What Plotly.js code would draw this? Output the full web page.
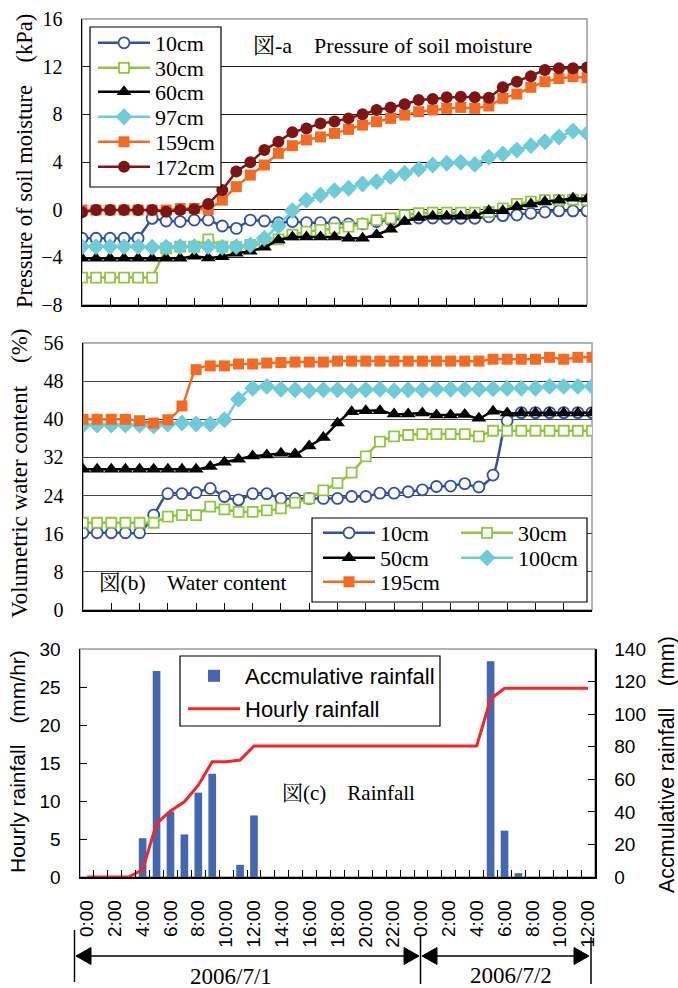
<!DOCTYPE html>
<html><head><meta charset="utf-8">
<script src="https://cdn.plot.ly/plotly-3.0.1.min.js"></script>
<style>html,body{margin:0;padding:0;background:#fff;} #chart{width:678px;height:988px;}</style>
</head><body><div id="chart"></div>
<script>
// ---------- data ----------
const hours = [0,1,2,3,4,5,6,7,8,9,10,11,12,13,14,15,16,17,18,19,20,21,22,23,24,25,26,27,28,29,30,31,32,33,34,35,36];
const hourTickLabels = ['0:00','2:00','4:00','6:00','8:00','10:00','12:00','14:00','16:00','18:00','20:00','22:00','0:00','2:00','4:00','6:00','8:00','10:00','12:00'];

// panel a : pressure of soil moisture (kPa)
const a10  = [-2.4,-2.4,-2.4,-2.4,-2.4,-0.73,-0.95,-1.0,-0.87,-0.87,-1.37,-1.57,-0.87,-0.95,-1.09,-1.0,-1.09,-1.09,-1.1,-1.2,-1.2,-1.0,-0.87,-0.75,-0.7,-0.7,-0.72,-0.72,-0.72,-0.6,-0.5,-0.45,-0.3,-0.2,-0.1,-0.1,-0.1];
const a30  = [-5.7,-5.7,-5.7,-5.7,-5.7,-5.7,-3.25,-3.1,-3.1,-2.5,-3.1,-3.15,-2.96,-2.9,-2.5,-2.1,-1.85,-1.7,-1.57,-1.43,-1.2,-0.87,-0.73,-0.45,-0.3,-0.25,-0.25,-0.25,-0.25,-0.2,0.1,0.48,0.67,0.8,0.8,0.85,0.8];
const a60  = [-4.08,-4.08,-4.08,-4.08,-4.08,-4.08,-4.08,-4.08,-3.9,-4.05,-3.95,-3.66,-3.5,-3.16,-2.55,-2.3,-2.3,-2.3,-2.3,-2.4,-2.4,-2.1,-1.65,-1.0,-0.65,-0.55,-0.55,-0.55,-0.5,-0.1,-0.1,0.25,0.48,0.67,0.8,0.95,0.9];
const a97  = [-3.1,-3.1,-3.1,-3.1,-3.1,-3.15,-3.15,-3.1,-3.1,-3.1,-3.15,-3.1,-2.96,-2.4,-1.37,-0.08,0.8,1.23,1.6,1.8,2.15,2.35,2.77,3.05,3.4,3.75,3.9,3.97,3.8,4.4,4.67,5.0,5.37,5.7,6.1,6.6,6.4];
const a159 = [-0.03,-0.03,-0.03,-0.03,-0.03,-0.03,-0.03,0.1,0.1,0.0,0.8,1.93,2.9,3.75,4.73,5.37,5.85,6.1,6.4,6.74,7.1,7.38,7.66,7.94,8.22,8.36,8.5,8.58,8.5,8.7,9.34,9.7,10.27,10.74,11.0,11.16,11.08];
const a172 = [-0.22,-0.03,-0.03,-0.03,-0.03,-0.03,-0.17,-0.03,0.03,0.48,1.65,3.2,3.97,5.0,5.7,6.5,6.82,7.24,7.4,7.66,8.0,8.36,8.58,8.84,9.2,9.29,9.43,9.48,9.43,9.4,10.27,10.74,11.2,11.72,11.86,11.86,11.94];

// panel b : volumetric water content (%)
const b10  = [16.2,16.2,16.2,16.2,16.2,19.9,24.4,24.4,24.6,25.5,23.8,23.1,24.4,24.4,23.4,23.4,23.4,23.4,23.4,23.8,23.8,24.5,24.5,24.8,25.2,25.9,26.0,26.5,25.8,28.3,39.7,41.4,41.4,41.4,41.4,41.4,41.4];
const b30  = [18.3,18.3,18.3,18.3,18.3,18.3,19.6,19.9,19.9,21.7,21.1,20.6,20.6,20.9,21.3,22.5,23.4,25.1,26.6,28.8,32.2,35.3,36.4,36.7,36.9,36.9,36.9,36.9,36.4,37.6,37.6,37.6,37.6,37.6,37.6,37.6,37.6];
const b50  = [29.5,29.5,29.5,29.5,29.5,29.5,29.5,29.5,29.5,30.1,31.0,31.6,32.3,32.5,32.9,32.7,34.4,36.2,39.2,41.6,41.8,41.8,41.1,41.1,41.3,40.9,40.9,41.0,40.2,41.7,41.3,41.3,41.3,41.3,41.3,41.3,41.3];
const b100 = [38.8,38.8,38.8,38.8,38.8,38.6,39.0,39.2,39.0,39.0,39.9,44.2,46.5,46.9,46.3,46.2,46.0,46.2,46.2,46.0,46.2,46.3,46.0,46.2,46.2,46.3,46.3,46.3,46.3,46.4,46.5,46.5,46.5,46.9,46.9,46.9,46.9];
const b195 = [40.0,40.0,40.0,40.0,39.7,39.2,39.9,42.8,50.4,51.2,51.2,51.6,51.6,51.8,51.9,52.0,52.0,52.0,52.2,52.2,52.2,52.2,52.2,52.2,52.2,52.2,52.2,52.2,52.2,52.6,52.6,52.6,52.6,53.0,52.6,53.0,53.0];

// panel c : rainfall
const rainBars = [0,0,0,0,5.1,27.1,8.6,5.6,11.1,13.6,0,1.6,8.1,0,0,0,0,0,0,0,0,0,0,0,0,0,0,0,0,28.4,6.1,0.5,0,0,0,0,0];
const rainLine = [0,0,0,0,4.5,32.8,40.6,46.2,56.4,70.8,70.8,71.8,80.5,80.5,80.5,80.5,80.5,80.5,80.5,80.5,80.5,80.5,80.5,80.5,80.5,80.5,80.5,80.5,80.5,109.3,115.9,115.9,115.9,115.9,115.9,115.9,115.9];

// ---------- layout helpers ----------
const W = 678, H = 988;
const X = p => p / W;
const Y = p => 1 - p / H;
const SERIF = '"Liberation Serif", "Times New Roman", "Noto Serif CJK JP", "Noto Sans CJK JP", serif';
const SANS = '"Liberation Sans", Arial, "Noto Sans CJK JP", sans-serif';

const C = {blue:'#3151A6', green:'#8FC73F', black:'#000000', cyan:'#6FCBD8', orange:'#F36A24', dred:'#7D1517', bar:'#4566B0', red:'#F32626'};

function ser(x, y, name, color, sym, size, open, xa, ya, leg, shape) {
  return {
    x: x, y: y, name: name, type: 'scatter', mode: 'lines+markers',
    xaxis: xa, yaxis: ya, legend: leg,
    line: {color: color, width: 2.5, shape: shape || 'linear', smoothing: 0.8},
    marker: {symbol: sym, size: size, color: open ? '#ffffff' : color,
             line: {color: color, width: open ? 1.8 : 0}}
  };
}

const traces = [
  ser(hours, a10,  '10cm',  C.blue,   'circle',      11, true,  'x', 'y', 'legend'),
  ser(hours, a30,  '30cm',  C.green,  'square',      10, true,  'x', 'y', 'legend2'),
  ser(hours, a60,  '60cm',  C.black,  'triangle-up', 13, false, 'x', 'y', 'legend3'),
  ser(hours, a97,  '97cm',  C.cyan,   'diamond',     13, false, 'x', 'y', 'legend4'),
  ser(hours, a159, '159cm', C.orange, 'square',      11, false, 'x', 'y', 'legend5'),
  ser(hours, a172, '172cm', C.dred,   'circle',      12, false, 'x', 'y', 'legend6'),

  ser(hours, b10,  '10cm',  C.blue,   'circle',      11, true,  'x2', 'y2', 'legend7', 'spline'),
  ser(hours, b30,  '30cm',  C.green,  'square',      10, true,  'x2', 'y2', 'legend8', 'spline'),
  ser(hours, b50,  '50cm',  C.black,  'triangle-up', 13, false, 'x2', 'y2', 'legend9', 'spline'),
  ser(hours, b100, '100cm', C.cyan,   'diamond',     13, false, 'x2', 'y2', 'legend10', 'spline'),
  ser(hours, b195, '195cm', C.orange, 'square',      11, false, 'x2', 'y2', 'legend11', 'spline'),

  {x: hours, y: rainBars, name: 'Accmulative rainfall', type: 'bar', xaxis: 'x3', yaxis: 'y3',
   legend: 'legend12', marker: {color: C.bar}, width: 0.55},
  {x: hours, y: rainLine, name: 'Hourly rainfall', type: 'scatter', mode: 'lines', xaxis: 'x3', yaxis: 'y4',
   legend: 'legend13', line: {color: C.red, width: 3}}
];

const tickFontSerif = {family: SERIF, size: 20, color: '#000'};
const tickFontSans = {family: SANS, size: 19, color: '#000'};

const boundaryTicks = [];
for (let i = 0; i < 36; i++) boundaryTicks.push(i + 0.5);
const labelPos = hourTickLabels.map((_, i) => i * 2);

function frame(x0, y0, x1, y1) {
  return {type: 'rect', xref: 'paper', yref: 'paper', x0: X(x0), x1: X(x1), y0: Y(y1), y1: Y(y0),
          line: {color: '#9a9a9a', width: 1.5}, layer: 'below'};
}
function box(x0, y0, x1, y1) {
  return {type: 'rect', xref: 'paper', yref: 'paper', x0: X(x0), x1: X(x1), y0: Y(y1), y1: Y(y0),
          fillcolor: '#fff', line: {color: '#000', width: 1.2}, layer: 'above'};
}
function seg(x0, y0, x1, y1) {
  return {type: 'line', xref: 'paper', yref: 'paper', x0: X(x0), x1: X(x1), y0: Y(y0), y1: Y(y1),
          line: {color: '#000', width: 1.5}};
}
function tri(tipX, tipY, dir) {
  const bx = tipX + dir * 15;
  const p = 'M' + X(tipX) + ',' + Y(tipY) + ' L' + X(bx) + ',' + Y(tipY - 8.5) + ' L' + X(bx) + ',' + Y(tipY + 8.5) + ' Z';
  return {type: 'path', xref: 'paper', yref: 'paper', path: p, fillcolor: '#000', line: {color: '#000', width: 1}};
}
function ann(text, x, y, font, opts) {
  return Object.assign({text: text, x: X(x), y: Y(y), xref: 'paper', yref: 'paper', showarrow: false,
                        font: font, xanchor: 'center', yanchor: 'middle'}, opts || {});
}
function leg(x, y, font) {
  return {x: X(x), y: Y(y), xanchor: 'left', yanchor: 'middle', bgcolor: 'rgba(0,0,0,0)', borderwidth: 0,
          font: font, itemwidth: 52, traceorder: 'normal'};
}
const legSerif = {family: SERIF, size: 22, color: '#000'};
const legSans = {family: SANS, size: 22, color: '#000'};

const layout = {
  width: W, height: H,
  margin: {l: 0, r: 0, t: 0, b: 0},
  paper_bgcolor: '#fff', plot_bgcolor: 'rgba(0,0,0,0)',
  showlegend: true,
  bargap: 0.47,
  xaxis: {domain: [X(82), X(587)], anchor: 'y', range: [0, 36], tick0: 0, dtick: 2,
          ticks: 'inside', ticklen: 7, tickcolor: '#000', showticklabels: false,
          showline: true, linecolor: '#000', linewidth: 1.5, showgrid: false, zeroline: false},
  yaxis: {domain: [Y(305), Y(19)], anchor: 'x', range: [-8, 16], tick0: -8, dtick: 4,
          ticks: '', showline: true, linecolor: '#000', linewidth: 1.5, showgrid: true, gridcolor: '#1a1a1a', gridwidth: 1,
          zeroline: false, tickfont: tickFontSerif, ticklabelstandoff: 14},
  xaxis2: {domain: [X(83), X(592)], anchor: 'y2', range: [0, 36], tick0: 0, dtick: 2,
           ticks: 'inside', ticklen: 7, tickcolor: '#000', showticklabels: false,
           showline: true, linecolor: '#000', linewidth: 1.5, showgrid: false, zeroline: false},
  yaxis2: {domain: [Y(610), Y(343)], anchor: 'x2', range: [0, 56], tick0: 0, dtick: 8,
           ticks: '', showline: true, linecolor: '#000', linewidth: 1.5, showgrid: true, gridcolor: '#444', gridwidth: 1,
           zeroline: false, tickfont: tickFontSerif, ticklabelstandoff: 14},
  xaxis3: {domain: [X(80), X(595)], anchor: 'y3', range: [-0.5, 36.5],
           tickmode: 'array', tickvals: labelPos, ticktext: hourTickLabels, ticks: '', tickangle: -90,
           tickfont: tickFontSans, ticklabelstandoff: 14,
           minor: {tickmode: 'array', tickvals: boundaryTicks, ticks: 'inside', ticklen: 7, tickcolor: '#000', showgrid: false},
           showline: true, linecolor: '#000', linewidth: 1.5, showgrid: false, zeroline: false},
  yaxis3: {domain: [Y(877), Y(649)], anchor: 'x3', range: [0, 30], dtick: 5,
           ticks: 'inside', ticklen: 7, tickcolor: '#000', showline: true, linecolor: '#000', linewidth: 1.5, showgrid: false, zeroline: false,
           tickfont: tickFontSans, ticklabelstandoff: 14},
  yaxis4: {overlaying: 'y3', side: 'right', anchor: 'x3', range: [0, 140], dtick: 20,
           ticks: 'inside', ticklen: 7, tickcolor: '#000', showline: true, linecolor: '#000', linewidth: 1.5, showgrid: false, zeroline: false,
           tickfont: tickFontSans, ticklabelstandoff: 14},

  legend:  leg(93, 43, legSerif),
  legend2: leg(93, 68, legSerif),
  legend3: leg(93, 92, legSerif),
  legend4: leg(93, 117, legSerif),
  legend5: leg(93, 142, legSerif),
  legend6: leg(93, 167, legSerif),
  legend7:  leg(318, 533, legSerif),
  legend8:  leg(456, 533, legSerif),
  legend9:  leg(318, 558, legSerif),
  legend10: leg(456, 558, legSerif),
  legend11: leg(318, 582, legSerif),
  legend12: leg(183, 676, legSans),
  legend13: leg(183, 709, legSans),

  shapes: [
    frame(82, 19, 587, 305),
    frame(83, 343, 592, 610),
    frame(80, 649, 595, 877),
    box(90, 27, 221, 187),
    box(312, 518, 587, 602),
    box(180, 656, 440, 726),
    seg(74.5, 930, 74.5, 982),
    seg(420.5, 935, 420.5, 984),
    seg(591, 937, 591, 984),
    seg(80, 956, 415, 956),
    seg(426, 956, 585, 956),
    tri(76, 956, 1), tri(419, 956, -1), tri(422, 956, 1), tri(589, 956, -1)
  ],
  annotations: [
    ann('Pressure of soil moisture\u3000(kPa)', 24, 161, {family: SERIF, size: 22.5, color: '#000'}, {textangle: -90}),
    ann('\u56f3-a\u3000Pressure of soil moisture', 251, 45, {family: SERIF, size: 22, color: '#000'}, {xanchor: 'left'}),
    ann('Volumetric water content\u3000(%)', 19, 473, {family: SERIF, size: 23, color: '#000'}, {textangle: -90}),
    ann('\u56f3(b)\u3000Water content', 97, 583, {family: SERIF, size: 21.5, color: '#000'}, {xanchor: 'left'}),
    ann('Hourly rainfall\u3000(mm/hr)', 17, 762, {family: SANS, size: 21, color: '#000'}, {textangle: -90}),
    ann('Accmulative rainfall\u3000(mm)', 667, 765, {family: SANS, size: 21.5, color: '#000'}, {textangle: -90}),
    ann('\u56f3(c)\u3000Rainfall', 280, 793, {family: SERIF, size: 21, color: '#000'}, {xanchor: 'left'}),
    ann('2006/7/1', 231, 976, {family: SERIF, size: 23, color: '#000'}),
    ann('2006/7/2', 511, 975, {family: SERIF, size: 23, color: '#000'})
  ]
};

Plotly.newPlot('chart', traces, layout, {displayModeBar: false, staticPlot: true});
</script></body></html>
